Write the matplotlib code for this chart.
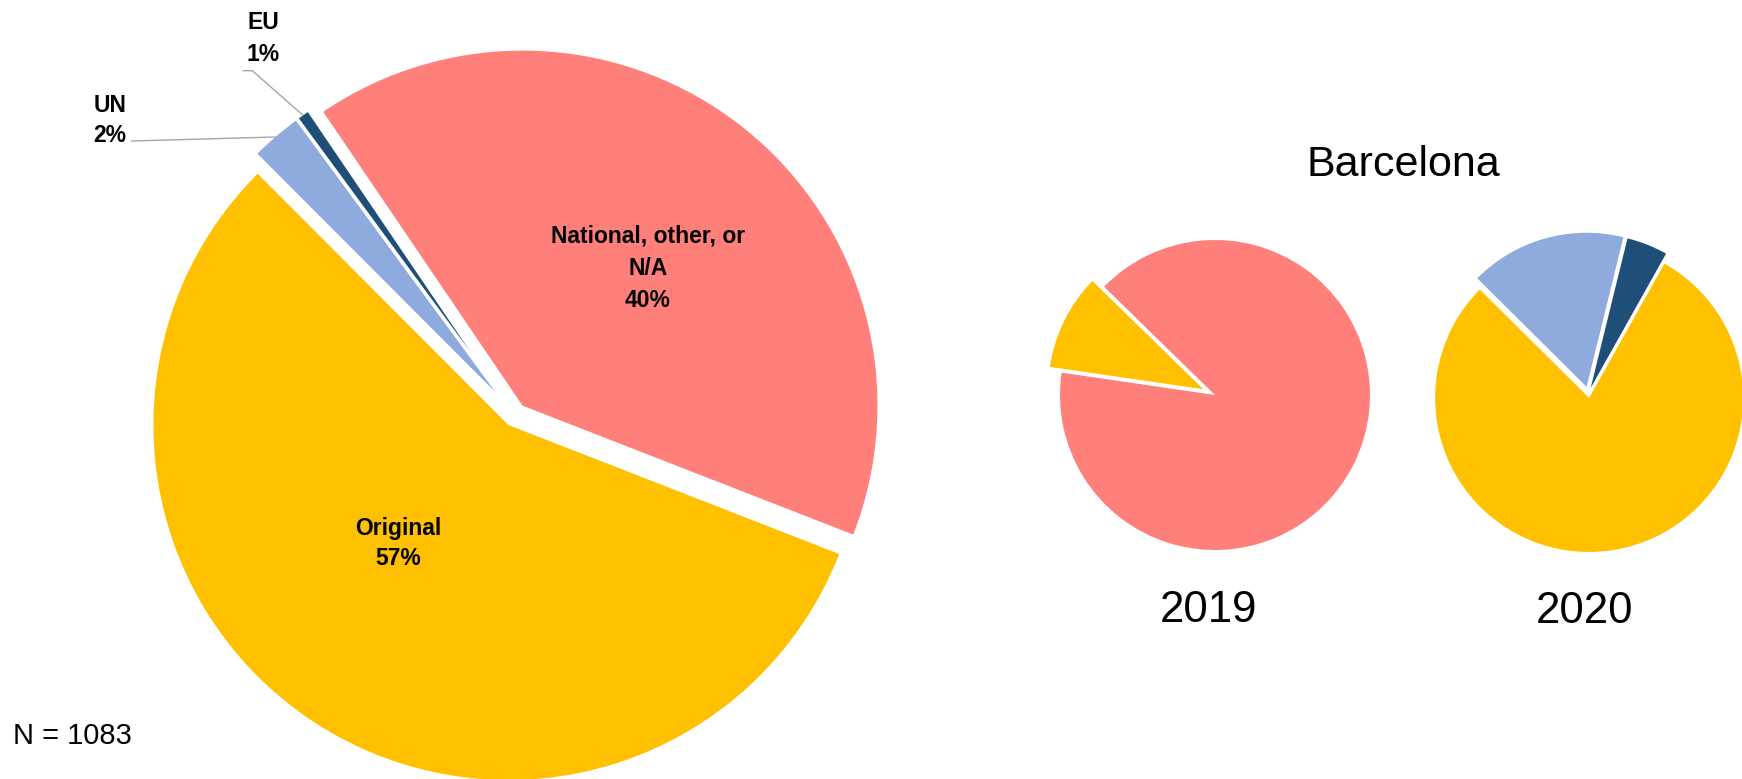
import matplotlib
matplotlib.use("Agg")
import matplotlib.pyplot as plt

# ---------------- data ----------------
categories = ["National, other, or N/A", "EU", "UN", "Original"]
category_labels = ["National, other, or\nN/A", "EU", "UN", "Original"]
share_all = [40.4, 0.6, 2.4, 56.6]          # overall, N = 1083
share_2019 = [90.0, 0.0, 0.0, 10.0]         # Barcelona 2019
share_2020 = [0.0, 4.3, 16.4, 79.3]         # Barcelona 2020
n_total = 1083
city = "Barcelona"
years = ["2019", "2020"]

# ---------------- style ----------------
colors = ["#FF7F7A", "#1F4E79", "#8FAADC", "#FFC000"]
W, H = 1742, 779
plt.rcParams['font.family'] = ['Liberation Sans', 'DejaVu Sans']

fig = plt.figure(figsize=(W / 100, H / 100), dpi=100)
ax = fig.add_axes([0, 0, 1, 1])


def Y(y_img):
    return H - y_img


# main pie
main_outer = 367
main_explode = [12, 77, 30, 12]
wedges, _ = ax.pie(share_all, colors=colors, startangle=-21.3,
                   explode=main_explode, radius=main_outer - 12,
                   center=(515, Y(415)), wedgeprops=dict(linewidth=0),
                   frame=True)
for w, e in zip(wedges, main_explode):
    w.set_radius(main_outer - e)

# Barcelona 2019
ax.pie(share_2019, colors=colors, startangle=171.7,
       explode=[0, 0, 0, 13], radius=155, center=(1215, Y(395)),
       wedgeprops=dict(linewidth=0), frame=True)

# Barcelona 2020
ax.pie(share_2020, colors=colors, startangle=60.7,
       explode=[0, 6, 7, 4.5], radius=154, center=(1588.5, Y(393.5)),
       wedgeprops=dict(linewidth=0), frame=True)

ax.set_xlim(0, W)
ax.set_ylim(0, H)
ax.set_aspect('equal')
ax.axis('off')

lab_kw = dict(fontsize=16.5, fontweight='bold', ha='center', va='baseline',
              color='black')


def pct(v):
    return f"{v:.0f}%"


def label(x, first_baseline, gap, idx, values):
    lines = category_labels[idx].split("\n") + [pct(values[idx])]
    for i, line in enumerate(lines):
        ax.text(x, Y(first_baseline + i * gap), line, **lab_kw)


label(648, 242.3, 32.2, 0, share_all)
label(398, 535, 30, 3, share_all)
label(263, 28.5, 32, 1, share_all)
label(110, 111.7, 30.6, 2, share_all)

# leader lines
ax.plot([243.3, 252.3, 302.7], [Y(70.7), Y(70.7), Y(115)], color='#A6A6A6', lw=1)
ax.plot([131.7, 275], [Y(141), Y(137)], color='#A6A6A6', lw=1)

ax.text(1403, Y(175.7), city, fontsize=31, ha='center', va='baseline', color='black')
ax.text(1208, Y(621.7), years[0], fontsize=31.5, ha='center', va='baseline', color='black')
ax.text(1585, Y(623), years[1], fontsize=31.5, ha='center', va='baseline', color='black')
ax.text(12.7, Y(744.3), f"N = {n_total}", fontsize=21, ha='left', va='baseline', color='black')

fig.savefig("out.png", dpi=100)
